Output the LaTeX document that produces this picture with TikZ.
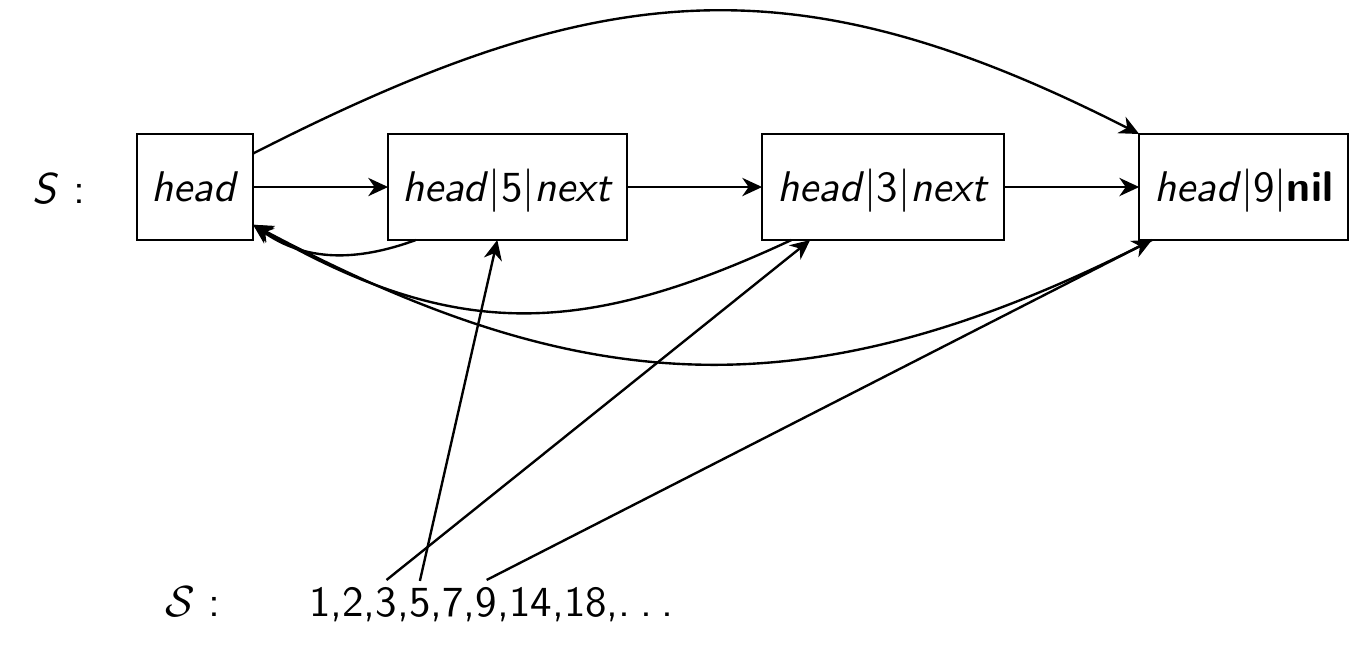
\documentclass[tikz,border=0pt]{standalone}
\usetikzlibrary{positioning,arrows.meta}
\renewcommand{\familydefault}{\sfdefault}
\begin{document}
\begin{tikzpicture}[inner sep=0pt,outer sep=0pt,line width=0.6pt,
font=\fontsize{10.8}{13}\selectfont,
>={Stealth[length=5pt,width=4.6pt,inset=1.6pt]},
cell/.style={draw,rectangle,minimum height=0.938cm,text height=0.75em,text depth=0pt},
num/.style={inner xsep=0pt,inner ysep=2pt,anchor=base west}]
\useasboundingbox (0,0) rectangle (12.053,5.717);

\draw (0.522,3.92) node[anchor=base] (lbl) {\textit{S} :};
\draw (1.726,4.062) node[cell,minimum width=1.027cm] (head) {\textit{head}};
\node[cell,minimum width=2.115cm,right=1.195cm of head] (n5) {\textit{head}$|$5$|$\textit{next}};
\node[cell,minimum width=2.142cm,right=1.195cm of n5] (n3) {\textit{head}$|$3$|$\textit{next}};
\node[cell,minimum width=1.850cm,right=1.195cm of n3] (n9) {\textit{head}$|$9$|$\textbf{nil}};

% the sequence
\draw (1.708,0.257) node[anchor=base] (seqlbl) {$\mathcal{S}$ :};
\node[num] (s12) at (2.735,0.257) {1,2,};
\node[num] (s3) at (s12.base east) {3};
\node[num] (sc) at (s3.base east) {,};
\node[num] (s5) at (sc.base east) {5};
\node[num] (s7) at (s5.base east) {,7,};
\node[num] (s9) at (s7.base east) {9};
\node[num] (srest) at (s9.base east) {,14,18,.\kern0.22em.\kern0.22em.};

\draw[->] (head) -- (n5);
\draw[->] (n5) -- (n3);
\draw[->] (n3) -- (n9);
\draw[->] (head.30) to[out=27,in=153,looseness=1.12] (n9.north west);

\draw[->] (n5.210) to[out=200,in=-35] (head.-33);
\draw[->] (n3.210) to[out=205,in=-30,looseness=1.1] (head.-33);
\draw[->] (n9.210) to[out=207,in=-28,looseness=1.08] (head.-33);

\draw[->] (s5.north) -- (n5.-101);
\draw[->] (s3.north) -- (n3.-144);
\draw[->] (s9.north) -- (n9.-150);
\end{tikzpicture}
\end{document}
